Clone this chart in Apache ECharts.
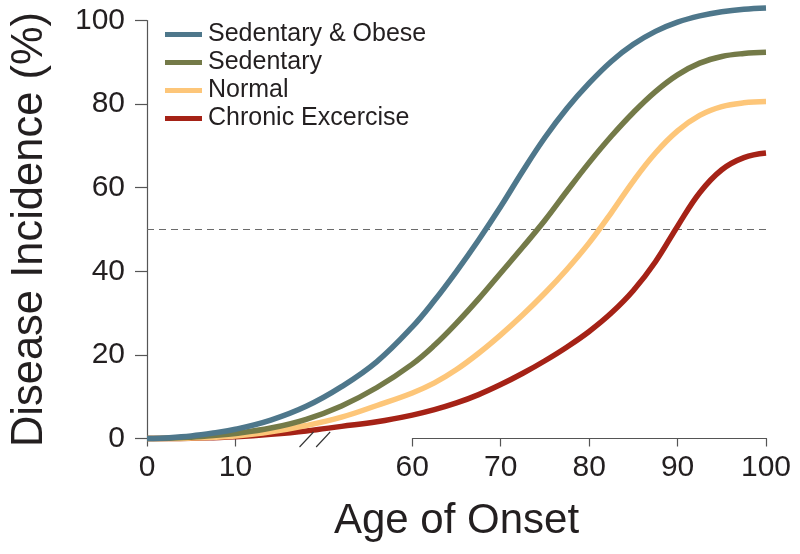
<!DOCTYPE html>
<html>
<head>
<meta charset="utf-8">
<script src="https://cdn.jsdelivr.net/npm/echarts@6/dist/echarts.min.js"></script>
<style>
html,body{margin:0;padding:0;background:#fff;}
#chart{width:800px;height:554px;}
</style>
</head>
<body>
<div id="chart"></div>
<script>
// ---- data ----
const ages = [0, 2.5, 5, 7.5, 10, 20, 30, 40, 50, 60, 62.5, 65, 67.5, 70, 72.5, 75, 77.5, 80, 82.5, 85, 87.5, 90, 92.5, 95, 97.5, 100];
const seriesNames = ['Sedentary & Obese', 'Sedentary', 'Normal', 'Chronic Excercise'];
const sedentaryObese = [0, 0.2, 0.6, 1.3, 2.2, 4.4, 7.7, 12.4, 18.4, 26.7, 33.0, 40.0, 47.5, 55.5, 64.0, 72.0, 79.0, 85.0, 90.2, 94.3, 97.4, 99.6, 101.1, 102.1, 102.7, 103.0];
const sedentary      = [0, 0.05, 0.3, 0.7, 1.2, 2.5, 4.6, 7.8, 12.2, 17.8, 22.3, 27.6, 33.4, 39.6, 45.8, 52.2, 59.2, 66.0, 72.3, 78.0, 83.0, 87.0, 89.8, 91.4, 92.1, 92.4];
const normal         = [0, 0, 0.1, 0.3, 0.6, 1.6, 3.1, 5.1, 7.9, 10.9, 13.3, 16.5, 20.4, 24.8, 29.6, 34.8, 40.5, 46.8, 54.0, 61.6, 68.3, 73.6, 77.3, 79.4, 80.3, 80.6];
const chronic        = [0, 0, 0.05, 0.2, 0.4, 1.0, 1.8, 2.9, 4.0, 5.6, 6.9, 8.5, 10.5, 12.9, 15.6, 18.6, 21.9, 25.6, 30.0, 35.4, 42.3, 50.8, 58.8, 64.3, 67.2, 68.3];
const xBreak = [10, 60];
const refLevel = 50;
const colors = ['#4e778b', '#747a48', '#fdc679', '#a52216'];

const allValues = [sedentaryObese, sedentary, normal, chronic];
const chart = echarts.init(document.getElementById('chart'), null, {renderer: 'canvas'});
const FONT = 'Liberation Sans, Arial, Helvetica, sans-serif';

const series = allValues.map((vals, i) => ({
  name: seriesNames[i],
  type: 'line',
  data: ages.map((a, j) => [a, vals[j]]),
  smooth: 0.4,
  showSymbol: false,
  symbol: 'none',
  clip: false,
  lineStyle: {width: 5.5, color: colors[i], cap: 'butt'},
  itemStyle: {color: colors[i]},
  z: 3 + (3 - i),
  markLine: i === 0 ? {
    silent: true,
    symbol: ['none', 'none'],
    label: {show: false},
    lineStyle: {color: '#6b6b6b', type: [7, 5], width: 1.2},
    data: [{yAxis: refLevel}],
    z: 1
  } : undefined
}));

chart.setOption({
  animation: false,
  backgroundColor: '#fff',
  grid: {left: 146, right: 34, top: 20.5, bottom: 115.5, containLabel: false},
  legend: {
    orient: 'vertical',
    left: 160, top: 17,
    icon: 'rect',
    itemWidth: 37, itemHeight: 5,
    itemGap: 3,
    textStyle: {fontFamily: FONT, fontSize: 25, color: '#231f20', lineHeight: 25, padding: [0, 0, 0, 1]},
    data: seriesNames
  },
  xAxis: {
    type: 'value',
    min: 0, max: 100, interval: 10,
    breaks: [{start: xBreak[0], end: xBreak[1], gap: 20}],
    breakArea: {show: false},
    name: 'Age of Onset',
    nameLocation: 'middle',
    nameGap: 62,
    nameTextStyle: {fontFamily: FONT, fontSize: 42, color: '#231f20'},
    axisLine: {show: true, onZero: false, lineStyle: {color: '#555', width: 1.2}},
    axisTick: {show: true, length: 8, inside: false, lineStyle: {color: '#555', width: 1.2}},
    axisLabel: {fontFamily: FONT, fontSize: 30, color: '#231f20', margin: 14},
    splitLine: {show: false}
  },
  yAxis: {
    type: 'value',
    min: 0, max: 100, interval: 20,
    name: 'Disease Incidence (%)',
    nameLocation: 'middle',
    nameGap: 95,
    nameRotate: 90,
    nameTextStyle: {fontFamily: FONT, fontSize: 43.5, color: '#231f20'},
    axisLine: {show: true, lineStyle: {color: '#555', width: 1.2}},
    axisTick: {show: true, length: 12, lineStyle: {color: '#555', width: 1.2}},
    axisLabel: {fontFamily: FONT, fontSize: 30, color: '#231f20', margin: 22},
    splitLine: {show: false}
  },
  series: series
});

// break marks ("//") on the x axis, placed through the axis scale
function addBreakMarks() {
  const p1 = chart.convertToPixel({xAxisIndex: 0, yAxisIndex: 0}, [30.1, 0]);
  const p2 = chart.convertToPixel({xAxisIndex: 0, yAxisIndex: 0}, [34.8, 0]);
  const mk = (p) => ({
    type: 'line',
    shape: {x1: p[0] - 7, y1: p[1] + 8.5, x2: p[0] + 7, y2: p[1] - 6.5},
    style: {stroke: '#333', lineWidth: 1.1},
    z: 10
  });
  chart.setOption({graphic: [mk(p1), mk(p2)]});
}
addBreakMarks();
</script>
</body>
</html>
